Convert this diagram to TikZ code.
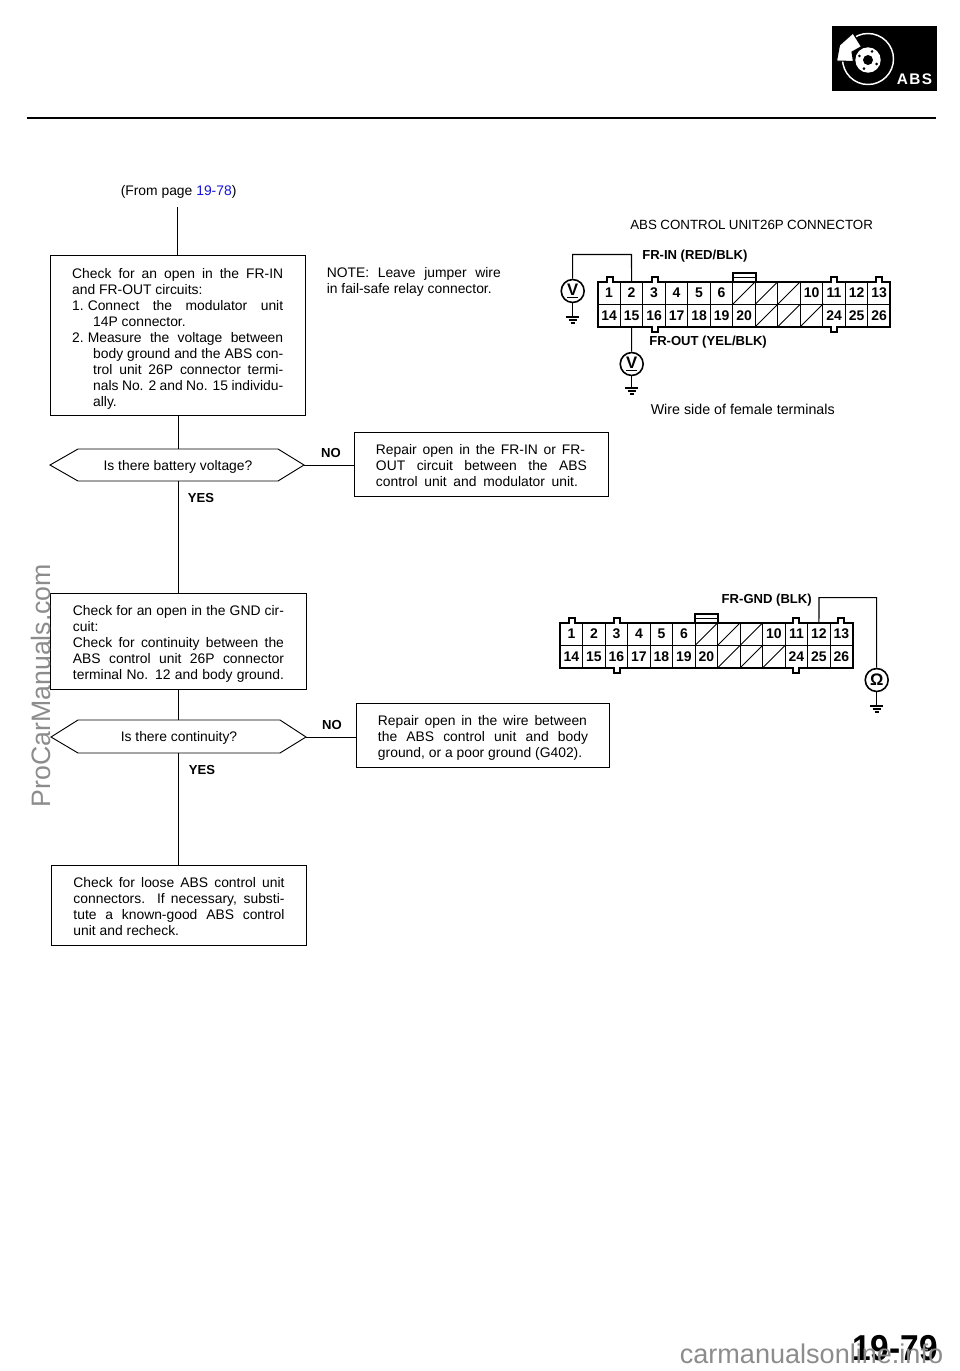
\documentclass[tikz,border=0pt]{standalone}
\usepackage{fontspec}
\setmainfont{Liberation Sans}
\newdimen\pxu \pxu=0.75pt
\newcommand{\jl}[3]{\hspace*{#1\pxu}\makebox[#2\pxu][s]{#3}}
\newcommand{\plainl}[2]{\hspace*{#1\pxu}#2}
\definecolor{linkblue}{RGB}{20,20,210}
\definecolor{wmark}{RGB}{140,140,140}
\tikzset{
  flowbox/.style={draw=black,line width=0.7pt,rectangle,inner sep=0pt,anchor=north west},
  body/.style={inner sep=0pt,align=left,font=\fontsize{10.4}{12}\selectfont},
  decision/.style={draw=black,line width=0.7pt,line join=miter},
  flow/.style={line width=0.7pt},
  blab/.style={inner sep=0pt,font=\fontsize{9.8}{11}\bfseries\selectfont},
  cell/.style={rectangle,draw=black,line width=0.7pt,minimum width=16.875pt,minimum height=16.875pt,inner sep=0pt,font=\fontsize{10.5}{11}\bfseries\selectfont},
  outline/.style={line width=1.4pt,line join=miter},
  wire/.style={line width=0.8pt},
  meter/.style={circle,draw=black,line width=1.2pt,minimum size=17.2pt,inner sep=0pt,font=\fontsize{12.5}{13}\bfseries\selectfont},
  gnd/.style={line width=0.8pt}
}
% #1 prefix, #2 left x, #3 top y
\newcommand{\connector}[3]{%
  \begin{scope}[shift={(#2,#3)}]
    \draw[line width=1.2pt] (135,0) -- (135,-9) -- (158,-9) -- (158,0);
    \draw[line width=0.7pt] (135,-4) -- (158,-4);
    \foreach \i/\t in {1/1,2/2,3/3,4/4,5/5,6/6,10/10,11/11,12/12,13/13}
      \node[cell] (#1c\t) at ({(\i-0.5)*22.5},11.25) {\t};
    \foreach \i/\t in {1/14,2/15,3/16,4/17,5/18,6/19,7/20,11/24,12/25,13/26}
      \node[cell] (#1c\t) at ({(\i-0.5)*22.5},33.75) {\t};
    \foreach \i in {7,8,9} {
      \node[cell] (#1t\i) at ({(\i-0.5)*22.5},11.25) {};
      \draw[line width=0.7pt] (#1t\i.south west) -- (#1t\i.north east);}
    \foreach \i in {8,9,10} {
      \node[cell] (#1u\i) at ({(\i-0.5)*22.5},33.75) {};
      \draw[line width=0.7pt] (#1u\i.south west) -- (#1u\i.north east);}
    \draw[outline] (0,0) -- (9,0) -- (9,-5) -- (15,-5) -- (15,0)
      -- (54,0) -- (54,-5) -- (60,-5) -- (60,0)
      -- (233,0) -- (233,-5) -- (239,-5) -- (239,0)
      -- (278,0) -- (278,-5) -- (284,-5) -- (284,0) -- (292.5,0)
      -- (292.5,45) -- (239,45) -- (239,50) -- (233,50) -- (233,45)
      -- (60,45) -- (60,50) -- (54,50) -- (54,45) -- (0,45) -- cycle;
    \draw[white,line width=1.2pt] (9.8,0) -- (14.2,0) (54.8,0) -- (59.2,0) (233.8,0) -- (238.2,0) (278.8,0) -- (283.2,0)
      (54.8,45) -- (59.2,45) (233.8,45) -- (238.2,45);
  \end{scope}}
\newcommand{\groundat}[3]{%
  \node[inner sep=0pt,minimum size=0pt] (#1) at (#2,#3) {};
  \draw[gnd] (#2-6.5,#3) -- (#2+6.5,#3) (#2-4,#3+3) -- (#2+4,#3+3) (#2-2,#3+6) -- (#2+2,#3+6);}
\begin{document}
\begin{tikzpicture}[x=0.75pt,y=-0.75pt]
\useasboundingbox (0,0) rectangle (960,1371);
\fill[white] (0,0) rectangle (960,1371);

% header
\coordinate (hl) at (27,117.5); \coordinate (hr) at (936,117.5);
\draw[line width=1.5pt] (hl) -- (hr);
\fill[black] (832,26) rectangle (937,91);
\draw[white,line width=1.1pt] (868,59) circle[radius=25.5];
\fill[white,draw=black,line width=0.8pt] (836.5,61) -- (839.5,45) -- (853,33) -- (861.5,46.7) -- (852,52) -- (853.5,61.5) -- cycle;
\fill[white] (868,60) circle[radius=12.7];
\fill[black] (868,60) circle[radius=5];
\foreach \a in {-65,25,115,205} \fill[black] (868,60) ++(\a:9.5) circle[radius=1.4];
\node[inner sep=0pt,text=white,font=\fontsize{11.5}{13}\bfseries\selectfont] (abs) at (914.5,79) {A\kern1pt B\kern1pt S};

% top
\node[body,anchor=west] (from) at (120.5,191.5) {(From page \textcolor{linkblue}{19-78})};
\coordinate (st) at (177,207);
\node[body,anchor=west,font=\fontsize{10}{12}\selectfont] (title) at (630,225) {\makebox[182pt][s]{ABS CONTROL UNIT26P CONNECTOR}};

% boxes
\node[flowbox,minimum width=191.6pt,minimum height=120pt] (b1) at (49.5,255) {};
\node[body,yshift=-2.6pt] (b1t) at (b1.center) {%
 \jl{0}{211}{Check for an open in the FR-IN}\\
 \plainl{0}{and FR-OUT circuits:}\\
 \jl{0}{211}{1.\kern3pt Connect the modulator unit}\\
 \plainl{21}{14P connector.}\\
 \jl{0}{211}{2.\kern3pt Measure the voltage between}\\
 \jl{21}{190}{body ground and the ABS con-}\\
 \jl{21}{190}{trol unit 26P connector termi-}\\
 \jl{21}{190}{nals No. 2 and No. 15 individu-}\\
 \plainl{21}{ally.}};
\node[body,anchor=north west] (note) at (326.5,267) {\jl{0}{174}{NOTE: Leave jumper wire}\\ \plainl{0}{in fail-safe relay connector.}};

\node[body] (q1) at (178,466.5) {Is there battery voltage?};
\coordinate (q1l) at (50,465); \coordinate (q1r) at (304,465);
\draw[decision] (q1l) -- (78,449) coordinate (q1t) -- (278,449) -- (q1r) -- (278,481) -- (78,481) -- cycle;
\node[flowbox,minimum width=190.5pt,minimum height=48pt] (r1) at (354,432) {};
\node[body,yshift=-0.8pt] (r1t) at (r1.center) {%
 \jl{0}{209}{Repair open in the FR-IN or FR-}\\
 \jl{0}{211}{OUT circuit between the ABS}\\
 \jl{0}{202}{control unit and modulator unit.}};
\node[blab] (no1) at (331,453) {NO};
\node[blab] (yes1) at (201,498) {YES};

\node[flowbox,minimum width=192pt,minimum height=72pt] (b2) at (50,593) {};
\node[body,yshift=-2.2pt] (b2t) at (b2.center) {%
 \jl{0}{211}{Check for an open in the GND cir-}\\
 \plainl{0}{cuit:}\\
 \jl{0}{211}{Check for continuity between the}\\
 \jl{0}{211}{ABS control unit 26P connector}\\
 \jl{0}{211}{terminal No. 12 and body ground.}};
\node[body] (q2) at (179,738) {Is there continuity?};
\coordinate (q2l) at (51,737); \coordinate (q2r) at (306,737);
\draw[decision] (q2l) -- (78,720) -- (280,720) -- (q2r) -- (280,753) -- (78,753) -- cycle;
\node[flowbox,minimum width=189.75pt,minimum height=48pt] (r2) at (356,703) {};
\node[body,yshift=-2.2pt] (r2t) at (r2.center) {%
 \jl{0}{209}{Repair open in the wire between}\\
 \jl{0}{210}{the ABS control unit and body}\\
 \plainl{0}{ground, or a poor ground (G402).}};
\node[blab] (no2) at (332,725) {NO};
\node[blab] (yes2) at (202,770) {YES};
\node[flowbox,minimum width=191.25pt,minimum height=60pt] (b3) at (51,865) {};
\node[body,yshift=-0.8pt] (b3t) at (b3.center) {%
 \jl{0}{211}{Check for loose ABS control unit}\\
 \jl{0}{211}{connectors. If necessary, substi-}\\
 \jl{0}{211}{tute a known-good ABS control}\\
 \plainl{0}{unit and recheck.}};

% flow lines
\draw[flow] (st) -- (177,255);
\draw[flow] (178,415) -- (178,449);
\draw[flow] (q1r) -- (r1.west |- q1r);
\draw[flow] (178,481) -- (178,593);
\draw[flow] (178,689) -- (178,720);
\draw[flow] (q2r) -- (r2.west |- q2r);
\draw[flow] (178,753) -- (178,865);

% connector 1
\connector{a}{597.8}{281.7}
\node[blab,anchor=west] (frin) at (642,256) {FR-IN (RED/BLK)};
\node[blab,anchor=west] (frout) at (649,342) {FR-OUT (YEL/BLK)};
\node[meter] (m1) at (572.7,291) {\underline{V}};
\coordinate (k1) at (572.7,254.5); \coordinate (k2) at (631.5,254.5);
\draw[wire] (m1.north) -- (k1) -- (k2) -- (ac2.north);
\groundat{g1}{572.7}{317}
\draw[wire] (m1.south) -- (g1);
\node[meter] (m2) at (631.7,364) {\underline{V}};
\draw[wire] (ac15.south) -- (m2.north);
\groundat{g2}{631.7}{388}
\draw[wire] (m2.south) -- (g2);
\node[body,anchor=west,font=\fontsize{10.7}{12}\selectfont] (side) at (650.5,409.5) {Wire side of female terminals};

% connector 2
\connector{e}{560.2}{622.7}
\node[blab,anchor=east] (frgnd) at (812,600) {FR-GND (BLK)};
\node[meter] (m3) at (876.7,680) {Ω};
\coordinate (k3) at (819,597.7); \coordinate (k4) at (876.7,597.7);
\draw[wire] (ec12.north) -- (k3) -- (k4) -- (m3.north);
\groundat{g3}{876.7}{706}
\draw[wire] (m3.south) -- (g3);

% footer
\node[inner sep=0pt,xscale=0.93,font=\fontsize{27}{28}\bfseries\selectfont] (pg) at (895,1348) {19-79};
\node[inner sep=0pt,text=wmark,font=\fontsize{20.3}{24}\selectfont] (wm2) at (811.5,1354) {carmanualsonline.info};
\node[inner sep=0pt,text=wmark,rotate=90,font=\fontsize{20}{24}\selectfont] (wm1) at (41,685.5) {ProCarManuals.com};
\end{tikzpicture}
\end{document}
